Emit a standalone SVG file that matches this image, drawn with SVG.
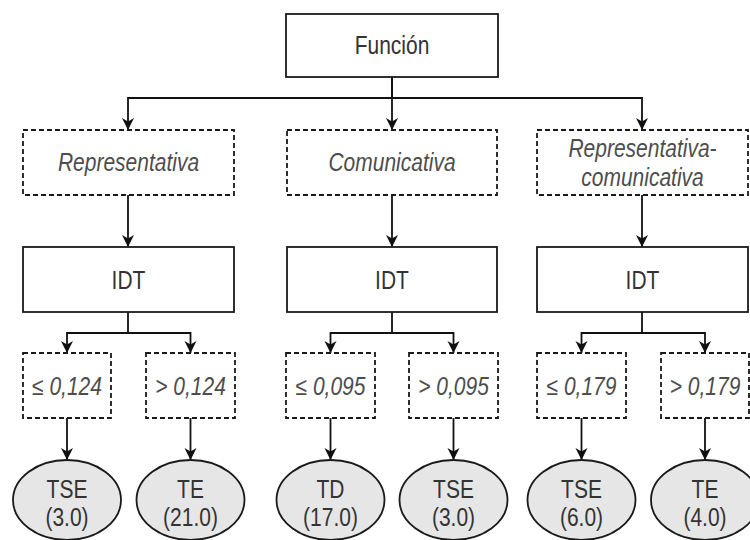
<svg xmlns="http://www.w3.org/2000/svg" width="750" height="540" viewBox="0 0 750 540">
<defs>
<marker id="arr" viewBox="0 0 12 13" refX="12" refY="6.5" markerWidth="12" markerHeight="13" markerUnits="userSpaceOnUse" orient="auto">
<path d="M0,0.5 L12,6.5 L0,12.5 L3.5,6.5 Z" fill="#111"/>
</marker>
</defs>
<style>
.box{fill:#fff;stroke:#1a1a1a;stroke-width:1.8}
.dash{fill:#fff;stroke:#1a1a1a;stroke-width:1.8;stroke-dasharray:5 3}
.leaf{fill:#e6e6e6;stroke:#1a1a1a;stroke-width:1.8}
.t{font-family:"Liberation Sans",Arial,sans-serif;font-size:25px;fill:#333;text-anchor:middle}
.i{font-style:italic;fill:#4d4d4d}
.c{fill:none;stroke:#111;stroke-width:1.8}
</style>
<rect width="750" height="540" fill="#fff"/>
<g id="connectors">
<path class="c" d="M392,77 V98 H128 V130" marker-end="url(#arr)"/>
<path class="c" d="M392,77 V130" marker-end="url(#arr)"/>
<path class="c" d="M392,98 H642 V130" marker-end="url(#arr)"/>
<path class="c" d="M128,195 V247" marker-end="url(#arr)"/>
<path class="c" d="M392,195 V247" marker-end="url(#arr)"/>
<path class="c" d="M642,195 V247" marker-end="url(#arr)"/>
<path class="c" d="M128,312 V333 H67 V353" marker-end="url(#arr)"/>
<path class="c" d="M128,333 H190.5 V353" marker-end="url(#arr)"/>
<path class="c" d="M392,312 V333 H330.5 V353" marker-end="url(#arr)"/>
<path class="c" d="M392,333 H453.5 V353" marker-end="url(#arr)"/>
<path class="c" d="M642,312 V333 H581.5 V353" marker-end="url(#arr)"/>
<path class="c" d="M642,333 H705 V353" marker-end="url(#arr)"/>
<path class="c" d="M67,418 V460" marker-end="url(#arr)"/>
<path class="c" d="M190.5,418 V460" marker-end="url(#arr)"/>
<path class="c" d="M330.5,418 V460" marker-end="url(#arr)"/>
<path class="c" d="M453.5,418 V460" marker-end="url(#arr)"/>
<path class="c" d="M581.5,418 V460" marker-end="url(#arr)"/>
<path class="c" d="M705,418 V460" marker-end="url(#arr)"/>
</g>
<g id="funcion">
<rect class="box" x="286" y="14" width="212" height="63"/>
<text class="t" transform="translate(392,54) scale(0.84,1)">Función</text>
</g>
<g id="representativa">
<rect class="dash" x="23" y="130" width="211" height="65"/>
<text class="t i" transform="translate(128.5,171) scale(0.84,1)">Representativa</text>
</g>
<g id="comunicativa">
<rect class="dash" x="287" y="130" width="210" height="65"/>
<text class="t i" transform="translate(392,171) scale(0.84,1)">Comunicativa</text>
</g>
<g id="rep-com">
<rect class="dash" x="537" y="130" width="211" height="65"/>
<text class="t i" transform="translate(642.5,157) scale(0.84,1)">Representativa-</text>
<text class="t i" transform="translate(642.5,186) scale(0.84,1)">comunicativa</text>
</g>
<g id="idt1">
<rect class="box" x="23" y="247" width="211" height="65"/>
<text class="t" transform="translate(128.5,289) scale(0.84,1)">IDT</text>
</g>
<g id="idt2">
<rect class="box" x="287" y="247" width="210" height="65"/>
<text class="t" transform="translate(392,289) scale(0.84,1)">IDT</text>
</g>
<g id="idt3">
<rect class="box" x="537" y="247" width="211" height="65"/>
<text class="t" transform="translate(642.5,289) scale(0.84,1)">IDT</text>
</g>
<g id="th1">
<rect class="dash" x="23" y="353" width="88" height="65"/>
<text class="t i" transform="translate(67,395) scale(0.84,1)">≤ 0,124</text>
</g>
<g id="th2">
<rect class="dash" x="146" y="353" width="89" height="65"/>
<text class="t i" transform="translate(190.5,395) scale(0.84,1)">&gt; 0,124</text>
</g>
<g id="th3">
<rect class="dash" x="286" y="353" width="89" height="65"/>
<text class="t i" transform="translate(330.5,395) scale(0.84,1)">≤ 0,095</text>
</g>
<g id="th4">
<rect class="dash" x="409" y="353" width="89" height="65"/>
<text class="t i" transform="translate(453.5,395) scale(0.84,1)">&gt; 0,095</text>
</g>
<g id="th5">
<rect class="dash" x="537" y="353" width="89" height="65"/>
<text class="t i" transform="translate(581.5,395) scale(0.84,1)">≤ 0,179</text>
</g>
<g id="th6">
<rect class="dash" x="661" y="353" width="88" height="65"/>
<text class="t i" transform="translate(705,395) scale(0.84,1)">&gt; 0,179</text>
</g>
<g id="leaf1">
<ellipse class="leaf" cx="67" cy="500" rx="54" ry="40"/>
<text class="t" transform="translate(67,498) scale(0.84,1)">TSE</text>
<text class="t" transform="translate(67,526) scale(0.84,1)">(3.0)</text>
</g>
<g id="leaf2">
<ellipse class="leaf" cx="190.5" cy="500" rx="54" ry="40"/>
<text class="t" transform="translate(190.5,498) scale(0.84,1)">TE</text>
<text class="t" transform="translate(190.5,526) scale(0.84,1)">(21.0)</text>
</g>
<g id="leaf3">
<ellipse class="leaf" cx="330.5" cy="500" rx="54" ry="40"/>
<text class="t" transform="translate(330.5,498) scale(0.84,1)">TD</text>
<text class="t" transform="translate(330.5,526) scale(0.84,1)">(17.0)</text>
</g>
<g id="leaf4">
<ellipse class="leaf" cx="453.5" cy="500" rx="54" ry="40"/>
<text class="t" transform="translate(453.5,498) scale(0.84,1)">TSE</text>
<text class="t" transform="translate(453.5,526) scale(0.84,1)">(3.0)</text>
</g>
<g id="leaf5">
<ellipse class="leaf" cx="581.5" cy="500" rx="54" ry="40"/>
<text class="t" transform="translate(581.5,498) scale(0.84,1)">TSE</text>
<text class="t" transform="translate(581.5,526) scale(0.84,1)">(6.0)</text>
</g>
<g id="leaf6">
<ellipse class="leaf" cx="705" cy="500" rx="54" ry="40"/>
<text class="t" transform="translate(705,498) scale(0.84,1)">TE</text>
<text class="t" transform="translate(705,526) scale(0.84,1)">(4.0)</text>
</g>
</svg>
